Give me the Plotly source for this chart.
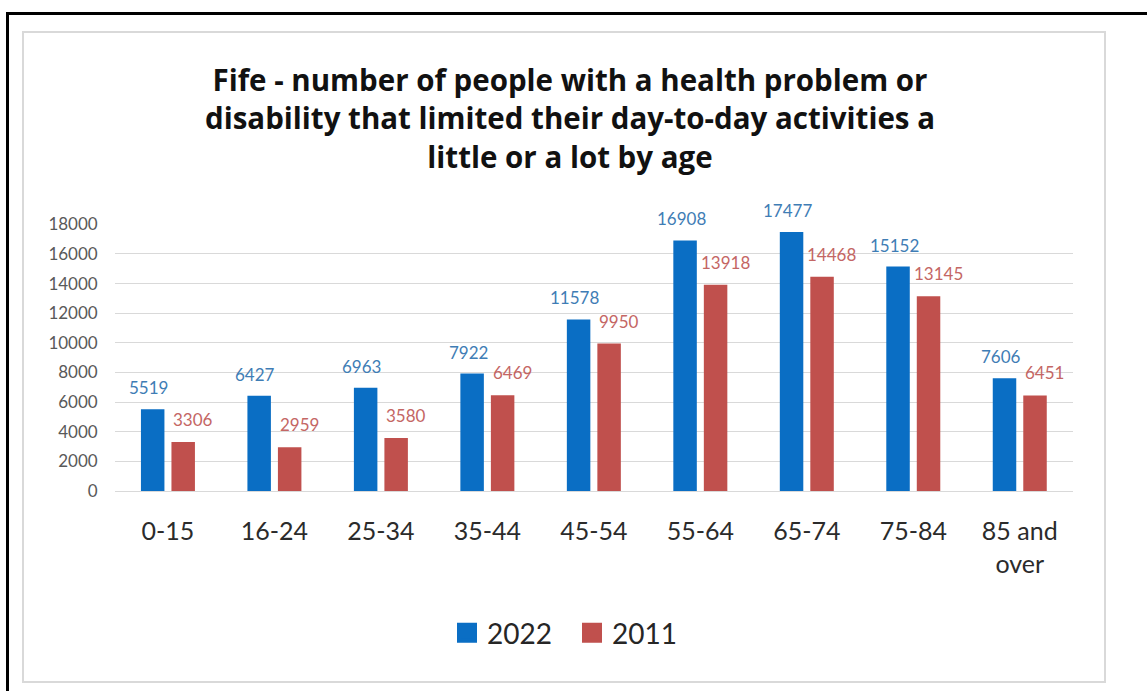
import plotly.graph_objects as go

# ---- data -------------------------------------------------------------
age_groups = ["0-15", "16-24", "25-34", "35-44", "45-54",
              "55-64", "65-74", "75-84", "85 and<br>over"]
people_2022 = [5519, 6427, 6963, 7922, 11578, 16908, 17477, 15152, 7606]
people_2011 = [3306, 2959, 3580, 6469, 9950, 13918, 14468, 13145, 6451]
y_ticks = [0, 2000, 4000, 6000, 8000, 10000, 12000, 14000, 16000, 18000]
title_lines = [
    "Fife - number of people with a health problem or",
    "disability that limited their day-to-day activities a",
    "little or a lot by age",
]

# ---- canvas geometry (pixels) -----------------------------------------
W, H = 1147, 691
ML, MR, MT, MB = 30, 30, 30, 30
BLUE, RED = "#0A6EC4", "#C0504D"
BLUE_TXT, RED_TXT = "#3F7DB5", "#C46664"
FONT = "Lato"


def px_x(p):
    """Pixel column -> paper x."""
    return (p - ML) / (W - ML - MR)


def px_y(p):
    """Pixel row (from top) -> paper y."""
    return 1 - (p - MT) / (H - MT - MB)


fig = go.Figure()

fig.add_trace(go.Bar(x=age_groups, y=people_2022, name="2022",
                     marker=dict(color=BLUE, line=dict(width=0)),
                     showlegend=False))
fig.add_trace(go.Bar(x=age_groups, y=people_2011, name="2011",
                     marker=dict(color=RED, line=dict(width=0)),
                     showlegend=False))

# legend entries with large square swatches
for name, col in (("2022", BLUE), ("2011", RED)):
    fig.add_trace(go.Scatter(x=[None], y=[None], mode="markers", name=name,
                             marker=dict(symbol="square", size=16, color=col,
                                         line=dict(color=col, width=4))))

annotations = []
# value labels above each bar
for cat, v in zip(age_groups, people_2022):
    annotations.append(dict(x=cat, y=v, xref="x", yref="y", text=str(v),
                            showarrow=False, xanchor="center", yanchor="bottom",
                            xshift=-19, yshift=9,
                            font=dict(family=FONT, size=17, color=BLUE_TXT)))
for cat, v in zip(age_groups, people_2011):
    annotations.append(dict(x=cat, y=v, xref="x", yref="y", text=str(v),
                            showarrow=False, xanchor="center", yanchor="bottom",
                            xshift=25, yshift=10,
                            font=dict(family=FONT, size=17, color=RED_TXT)))

# chart title (three centred lines)
annotations.append(dict(x=px_x(570), y=px_y(118), xref="paper", yref="paper",
                        text="<b>" + "<br>".join(title_lines) + "</b>",
                        showarrow=False, align="center",
                        xanchor="center", yanchor="middle",
                        font=dict(family="Open Sans", size=29.5,
                                  color="#111111")))

shapes = [
    # outer black frame (top and left edges)
    dict(type="line", xref="paper", yref="paper",
         x0=px_x(7.5), x1=px_x(W + 5), y0=px_y(13.5), y1=px_y(13.5),
         line=dict(color="black", width=3)),
    dict(type="line", xref="paper", yref="paper",
         x0=px_x(7.5), x1=px_x(7.5), y0=px_y(12), y1=px_y(H + 5),
         line=dict(color="black", width=3)),
    # light chart-area border
    dict(type="rect", xref="paper", yref="paper",
         x0=px_x(23), x1=px_x(1105), y0=px_y(32), y1=px_y(682),
         line=dict(color="#D9D9D9", width=2)),
]

fig.update_layout(
    width=W, height=H,
    margin=dict(l=ML, r=MR, t=MT, b=MB, autoexpand=False),
    paper_bgcolor="white", plot_bgcolor="white",
    barmode="group", bargap=0.427, bargroupgap=0.23,
    annotations=annotations, shapes=shapes,
    legend=dict(orientation="h", x=px_x(572), y=px_y(633),
                xanchor="center", yanchor="middle",
                font=dict(family=FONT, size=28, color="#262626"),
                itemwidth=30, entrywidth=80, bgcolor="rgba(0,0,0,0)"),
    xaxis=dict(domain=[px_x(114.7), px_x(1073)], type="category",
               showgrid=False, showline=True, linecolor="#D9D9D9", linewidth=1,
               ticks="", ticklabelstandoff=18, automargin=False,
               tickfont=dict(family=FONT, size=25, color="#2B2B2B")),
    yaxis=dict(domain=[px_y(491), px_y(224.3)], range=[0, 18000],
               tickvals=y_ticks, ticktext=[str(t) for t in y_ticks],
               showgrid=True, gridcolor="#D9D9D9", gridwidth=1,
               zeroline=False, showline=False, ticks="", ticklabelstandoff=16,
               automargin=False,
               tickfont=dict(family=FONT, size=17, color="#595959")),
    showlegend=True,
)

fig.write_html("out.html")
